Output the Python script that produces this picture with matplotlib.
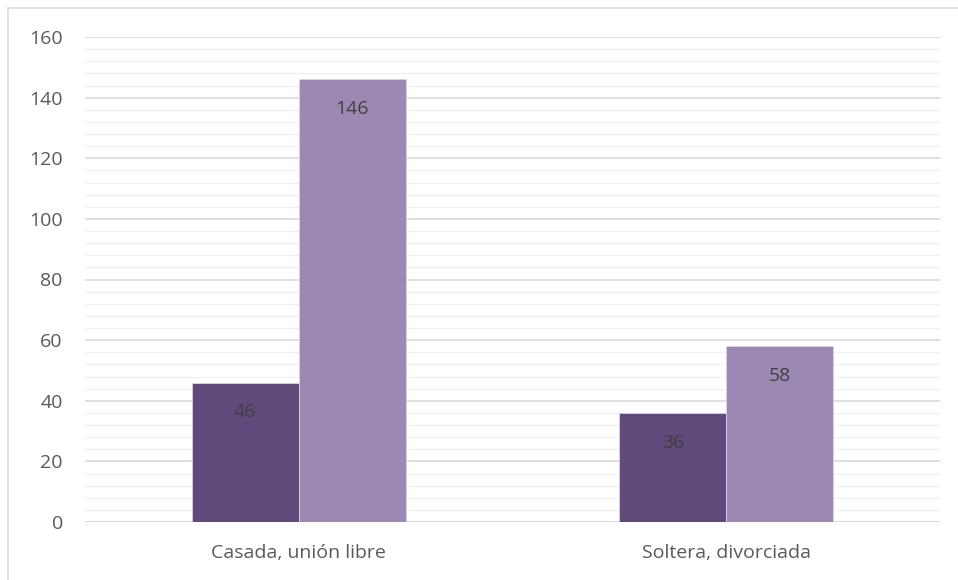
import matplotlib
matplotlib.use("Agg")
import matplotlib.pyplot as plt
from matplotlib.ticker import MultipleLocator
from matplotlib.patches import Rectangle
import numpy as np

categories = ["Casada, unión libre", "Soltera, divorciada"]
series_a = [46, 36]
series_b = [146, 58]
yticks = [0, 20, 40, 60, 80, 100, 120, 140, 160]

W, H = 958, 580
fig = plt.figure(figsize=(W / 100, H / 100), dpi=100)
plt.rcParams['font.family'] = ['Open Sans', 'DejaVu Sans']

ax = fig.add_axes([85 / W, 1 - 522 / H, (940 - 85) / W, (522 - 37) / H])
x = np.arange(len(categories))
bw = 0.25
ca, cb = "#604A7B", "#9B88B3"
ba = ax.bar(x - bw / 2, series_a, bw, color=ca, edgecolor="#D9D4E2", linewidth=0.6, zorder=3)
bb = ax.bar(x + bw / 2, series_b, bw, color=cb, edgecolor="#D9D4E2", linewidth=0.6, zorder=3)

for bars, vals in ((ba, series_a), (bb, series_b)):
    for r, v in zip(bars, vals):
        ax.annotate(str(v), (r.get_x() + r.get_width() / 2, v), xytext=(0, -15),
                    textcoords="offset points", ha="center", va="top",
                    fontsize=14, color="#404040", zorder=4)

ax.set_xlim(-0.5, 1.5)
ax.set_ylim(0, 160)
ax.set_yticks(yticks)
ax.yaxis.set_minor_locator(MultipleLocator(4))
ax.grid(axis="y", which="major", color="#D9D9D9", linewidth=1.2, zorder=0)
ax.grid(axis="y", which="minor", color="#F0F0F0", linewidth=1.0, zorder=0)
ax.set_xticks(x)
ax.set_xticklabels(categories)
ax.tick_params(axis="both", which="both", length=0, labelsize=14, labelcolor="#595959")
ax.tick_params(axis="y", pad=16)
ax.tick_params(axis="x", pad=16)
for s in ax.spines.values():
    s.set_visible(False)
ax.axhline(0, color="#D9D9D9", linewidth=1.2, zorder=2)

fig.patches.append(Rectangle((8 / W, -0.1), 1.2, (1 - 8 / H) + 0.1, transform=fig.transFigure,
                             fill=False, edgecolor="#D9D9D9", linewidth=1.2))

fig.savefig("out.png", dpi=100)
